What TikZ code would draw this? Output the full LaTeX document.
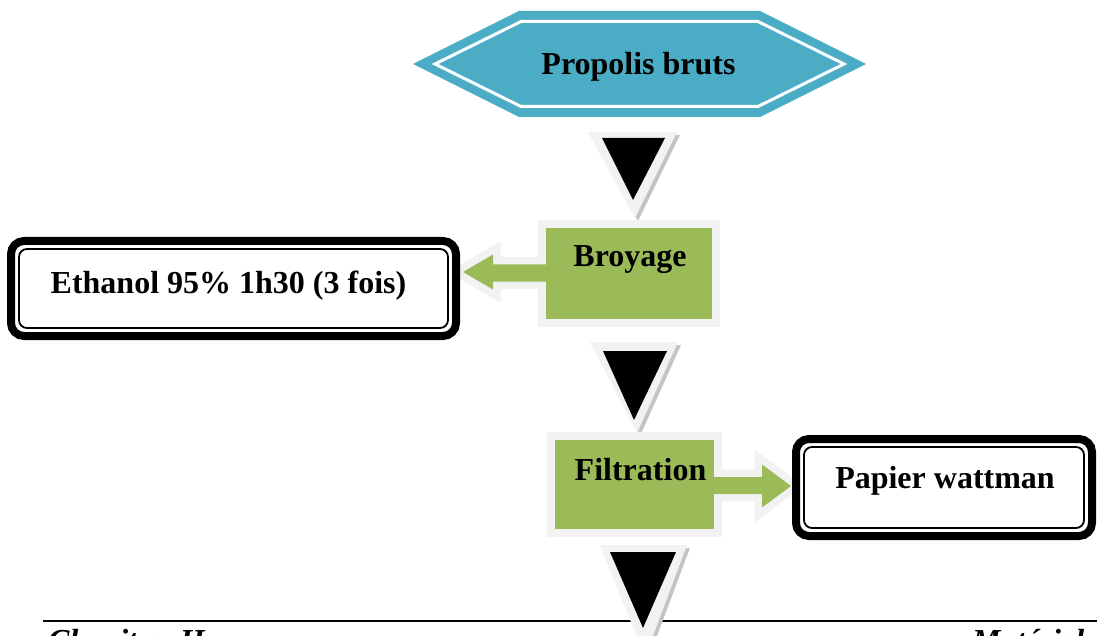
\documentclass[tikz,border=0pt]{standalone}
\usepackage{fontspec}
\setmainfont{Liberation Serif}
\definecolor{hexblue}{HTML}{4BACC6}
\definecolor{boxgreen}{HTML}{9BBB59}
\definecolor{halo}{HTML}{F2F2F2}
\definecolor{shade}{HTML}{C4C4C4}
\begin{document}
\begin{tikzpicture}[x=1pt,y=-1pt,
  lbl/.style={font=\fontsize{32}{38}\selectfont\bfseries, inner sep=0pt, anchor=base},
  foot/.style={font=\fontsize{32}{38}\selectfont\bfseries\itshape, inner sep=0pt, anchor=base west},
  greenbox/.style={draw=halo, line width=8pt, fill=boxgreen, inner sep=0pt},
  framebox/.style={draw=black, line width=8pt, rounded corners=13pt, fill=white, inner sep=0pt},
  thinframe/.style={draw=black, line width=1.8pt, rounded corners=8pt},
  halotri/.style={fill=halo},
  shadetri/.style={fill=shade},
  blacktri/.style={fill=black},
  arrowhalo/.style={draw=halo, line width=15pt, line join=miter, fill=halo},
  arrowfill/.style={fill=boxgreen}]

\useasboundingbox (0,0) rectangle (1097,636);
\clip (0,0) rectangle (1097,636);

% bottom rule
\draw[line width=2pt] (43,621) -- (1097,621);

% hexagon
\fill[hexblue] (413,64) -- (519,11) -- (760,11) -- (866,64) -- (760,117) -- (519,117) -- cycle;
\draw[white, line width=3pt, line join=miter] (435,64) -- (521,21.5) -- (758,21.5) -- (844,64) -- (758,106.5) -- (521,106.5) -- cycle;
\node[lbl] (prop) at (638.5,75) {Propolis bruts};

% down triangles
\fill[shadetri] (591,135) -- (680,135) -- (638,221) -- cycle;
\fill[halotri] (588,132) -- (677,132) -- (635,218) -- cycle;
\fill[blacktri] (602,138) -- (665,138) -- (633,200) -- cycle;

\fill[shadetri] (593,345) -- (681,345) -- (640,436) -- cycle;
\fill[halotri] (590,342) -- (678,342) -- (637,433) -- cycle;
\fill[blacktri] (603,351) -- (667,351) -- (634,420) -- cycle;

\fill[shadetri] (603,548) -- (690,548) -- (648,660) -- cycle;
\fill[halotri] (600,545) -- (687,545) -- (645,657) -- cycle;
\fill[blacktri] (610,552) -- (676,552) -- (643,628) -- cycle;

% block arrow halos
\path[arrowhalo] (463,272) -- (493,254.5) -- (493,264.5) -- (552,264.5) -- (552,281.5) -- (493,281.5) -- (493,289.5) -- cycle;
\path[arrowhalo] (791,486) -- (762,507.5) -- (762,494) -- (705,494) -- (705,477) -- (762,477) -- (762,464.5) -- cycle;

% green boxes
\node[greenbox, minimum width=174pt, minimum height=99pt] (broy) at (629,273.5) {};
\node[greenbox, minimum width=167pt, minimum height=97pt] (filt) at (634.5,484.5) {};

% block arrow fills
\fill[arrowfill] (463,272) -- (493,254.5) -- (493,264.5) -- (552,264.5) -- (552,281.5) -- (493,281.5) -- (493,289.5) -- cycle;
\fill[arrowfill] (791,486) -- (762,507.5) -- (762,494) -- (705,494) -- (705,477) -- (762,477) -- (762,464.5) -- cycle;

\node[lbl] (broyt) at (630,267) {Broyage};
\node[lbl] (filtt) at (640.5,480) {Filtration};

% framed boxes
\node[framebox, minimum width=445pt, minimum height=95pt] (eth) at (233.5,288.5) {};
\draw[thinframe] (19,249) rectangle (448,328);
\node[lbl] (etht) at (228.5,293) {Ethanol 95\% 1h30 (3 fois)};

\node[framebox, minimum width=296pt, minimum height=97pt] (pap) at (944,487.5) {};
\draw[thinframe] (804,447) rectangle (1084,528);
\node[lbl] (papt) at (945,488) {Papier wattman};

% footer
\node[foot] (chap) at (48,651) {Chapitre\ \ II};
\node[foot] (mat) at (972,651) {Matériel};
\end{tikzpicture}
\end{document}
